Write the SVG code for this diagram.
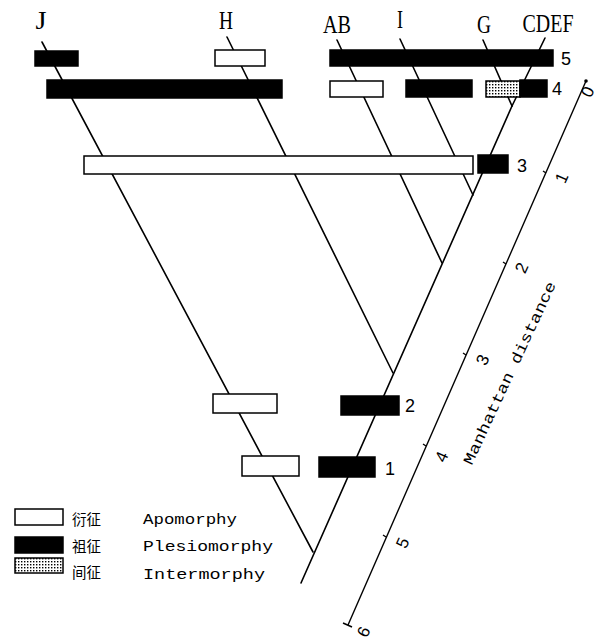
<svg xmlns="http://www.w3.org/2000/svg" width="600" height="641" viewBox="0 0 600 641">
<style>
.br{stroke:#000;stroke-width:1.6;fill:none;stroke-linecap:round}
.ax{stroke:#000;stroke-width:1.4;fill:none}
.w{fill:#fff;stroke:#000;stroke-width:1.5}
.b{fill:#000;stroke:#000;stroke-width:1.5}
.s{fill:url(#dots);stroke:#000;stroke-width:1.5}
.tl{font-family:"Liberation Serif",serif;font-size:25px;fill:#000}
.num{font-family:"Liberation Sans",sans-serif;font-size:18px;fill:#000}
.tick{font-family:"Liberation Sans",sans-serif;font-size:17px;fill:#000}
.lg{font-family:"Liberation Mono",monospace;font-size:15px;fill:#000}
.cjk{font-family:"Noto Sans CJK SC",sans-serif;font-size:15px;fill:#000}
</style>
<defs>
<pattern id="dots" width="3" height="3" patternUnits="userSpaceOnUse">
<rect width="3" height="3" fill="#fff"/>
<rect x="0" y="0" width="1.4" height="1.4" fill="#000"/>
</pattern>
</defs>

<g id="connectors">
<line class="br" x1="42" y1="42" x2="313" y2="552"/>
<line class="br" x1="227" y1="37" x2="393" y2="373"/>
<line class="br" x1="337" y1="40" x2="442" y2="263"/>
<line class="br" x1="400" y1="39" x2="473" y2="195"/>
<line class="br" x1="483" y1="40" x2="512" y2="106"/>
<line class="br" x1="545" y1="38" x2="512" y2="106"/>
<line class="br" x1="512" y1="106" x2="301" y2="583"/>
</g>

<g id="node-J"><text class="tl" x="41" y="29" text-anchor="middle" textLength="11" lengthAdjust="spacingAndGlyphs">J</text></g>
<g id="node-H"><text class="tl" x="226" y="29" text-anchor="middle" textLength="14" lengthAdjust="spacingAndGlyphs">H</text></g>
<g id="node-AB"><text class="tl" x="337" y="33" text-anchor="middle" textLength="28" lengthAdjust="spacingAndGlyphs">AB</text></g>
<g id="node-I"><text class="tl" x="400" y="28" text-anchor="middle" textLength="6" lengthAdjust="spacingAndGlyphs">I</text></g>
<g id="node-G"><text class="tl" x="484" y="33" text-anchor="middle" textLength="14" lengthAdjust="spacingAndGlyphs">G</text></g>
<g id="node-CDEF"><text class="tl" x="548" y="32" text-anchor="middle" textLength="51" lengthAdjust="spacingAndGlyphs">CDEF</text></g>

<g id="row5">
<rect class="b" x="35" y="51" width="43" height="15"/>
<rect class="w" x="215" y="50" width="50" height="16"/>
<rect class="b" x="330" y="50" width="223" height="16"/>
<text class="num" x="561" y="65">5</text>
</g>
<g id="row4">
<rect class="b" x="47" y="80" width="235" height="18"/>
<rect class="w" x="330" y="81" width="53" height="16"/>
<rect class="b" x="406" y="80" width="66" height="17"/>
<rect class="s" x="486" y="81" width="34" height="16"/>
<rect class="b" x="520" y="80" width="27" height="17"/>
<text class="num" x="552" y="95">4</text>
</g>
<g id="row3">
<rect class="w" x="84" y="156" width="389" height="18"/>
<rect class="b" x="478" y="155" width="30" height="18"/>
<text class="num" x="517" y="172">3</text>
</g>
<g id="row2">
<rect class="w" x="213" y="394" width="64" height="19"/>
<rect class="b" x="341" y="396" width="58" height="19"/>
<text class="num" x="405" y="412">2</text>
</g>
<g id="row1">
<rect class="w" x="242" y="456" width="57" height="20"/>
<rect class="b" x="319" y="457" width="56" height="20"/>
<text class="num" x="385" y="475">1</text>
</g>

<g id="axis">
<line class="ax" x1="586" y1="81" x2="348" y2="625"/>
<circle cx="586" cy="81" r="1.8" fill="#000"/>
<line class="ax" x1="343" y1="623" x2="352" y2="627"/>
<line class="ax" x1="546" y1="173" x2="543" y2="171"/>
<line class="ax" x1="506" y1="264" x2="503" y2="262"/>
<line class="ax" x1="466" y1="355" x2="463" y2="353"/>
<line class="ax" x1="426" y1="446" x2="423" y2="444"/>
<line class="ax" x1="386" y1="537" x2="383" y2="535"/>
<text class="tick" transform="translate(588,92) rotate(-66)" text-anchor="middle" dominant-baseline="central">0</text>
<text class="tick" transform="translate(562,178) rotate(-66)" text-anchor="middle" dominant-baseline="central">1</text>
<text class="tick" transform="translate(522,268) rotate(-66)" text-anchor="middle" dominant-baseline="central">2</text>
<text class="tick" transform="translate(483,360) rotate(-66)" text-anchor="middle" dominant-baseline="central">3</text>
<text class="tick" transform="translate(442,457) rotate(-66)" text-anchor="middle" dominant-baseline="central">4</text>
<text class="tick" transform="translate(403,543) rotate(-66)" text-anchor="middle" dominant-baseline="central">5</text>
<text class="tick" transform="translate(364,632) rotate(-66)" text-anchor="middle" dominant-baseline="central">6</text>
<text class="lg" transform="translate(514,375) rotate(-65)" text-anchor="middle" textLength="200" lengthAdjust="spacingAndGlyphs">Manhattan distance</text>
</g>

<g id="legend">
<rect class="w" x="15" y="509" width="48" height="16"/>
<rect class="b" x="15" y="537" width="48" height="16"/>
<rect class="s" x="15" y="558" width="48" height="15"/>
<text class="cjk" x="72" y="525" textLength="29" lengthAdjust="spacingAndGlyphs">衍征</text>
<text class="cjk" x="72" y="552" textLength="29" lengthAdjust="spacingAndGlyphs">祖征</text>
<text class="cjk" x="72" y="578" textLength="29" lengthAdjust="spacingAndGlyphs">间征</text>
<text class="lg" x="143" y="524" textLength="94" lengthAdjust="spacingAndGlyphs">Apomorphy</text>
<text class="lg" x="143" y="551" textLength="130" lengthAdjust="spacingAndGlyphs">Plesiomorphy</text>
<text class="lg" x="143" y="579" textLength="122" lengthAdjust="spacingAndGlyphs">Intermorphy</text>
</g>
</svg>
